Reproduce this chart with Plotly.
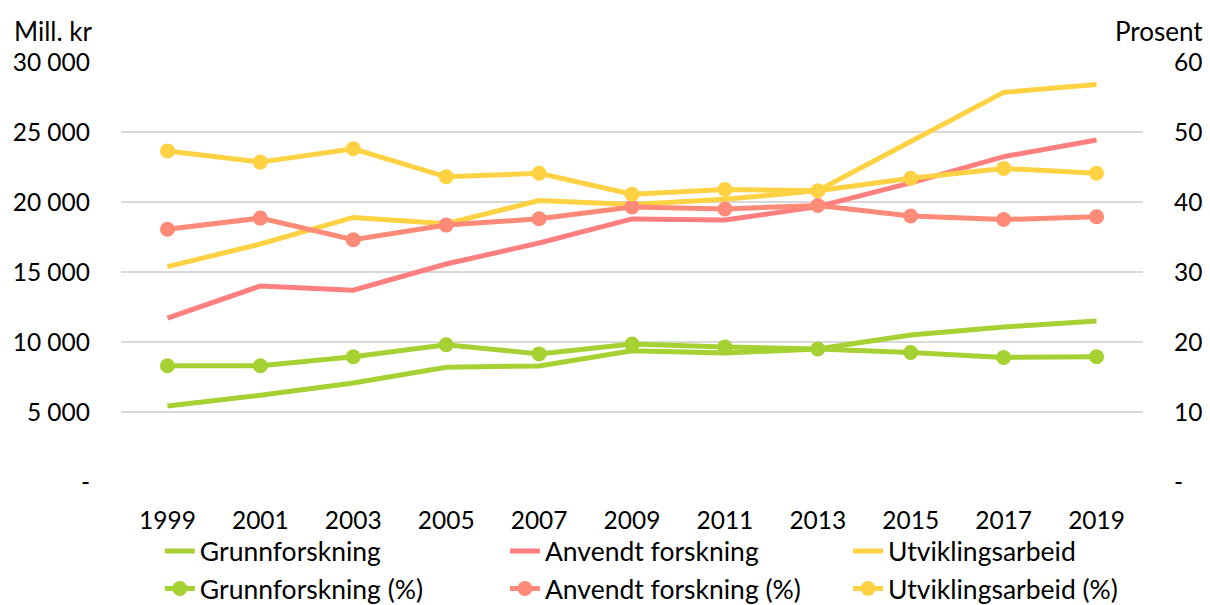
import plotly.graph_objects as go

years = ["1999", "2001", "2003", "2005", "2007", "2009", "2011", "2013", "2015", "2017", "2019"]

grunn = [5430, 6200, 7070, 8200, 8290, 9380, 9210, 9500, 10500, 11070, 11500]
anvendt = [11700, 14000, 13700, 15570, 17070, 18790, 18710, 19670, 21360, 23240, 24430]
utvikling = [15380, 17000, 18900, 18450, 20100, 19830, 20190, 20810, 24320, 27830, 28400]

grunn_pct = [16.6, 16.6, 17.9, 19.6, 18.3, 19.7, 19.3, 19.0, 18.5, 17.8, 17.9]
anvendt_pct = [36.1, 37.7, 34.6, 36.7, 37.6, 39.3, 39.0, 39.5, 38.0, 37.5, 37.9]
utvikling_pct = [47.3, 45.7, 47.6, 43.6, 44.1, 41.1, 41.8, 41.6, 43.4, 44.8, 44.1]

left_ticks = [0, 5000, 10000, 15000, 20000, 25000, 30000]
left_labels = ["-", "5 000", "10 000", "15 000", "20 000", "25 000", "30 000"]
right_ticks = [0, 10, 20, 30, 40, 50, 60]
right_labels = ["-", "10", "20", "30", "40", "50", "60"]

GREEN = "#a5d232"
RED = "#ff7f7f"
SALMON = "#ff8a78"
YELLOW = "#ffd243"

FONT = "Lato"
TICK_FS = 24.5
LEG_FS = 26.5
TITLE_FS = 26

fig = go.Figure()
line_w = 5
msize = 15

fig.add_trace(go.Scatter(x=years, y=grunn, name="Grunnforskning", mode="lines",
                         line=dict(color=GREEN, width=line_w), yaxis="y", legend="legend"))
fig.add_trace(go.Scatter(x=years, y=grunn_pct, name="Grunnforskning (%)", mode="lines+markers",
                         line=dict(color=GREEN, width=line_w),
                         marker=dict(color=GREEN, size=msize), yaxis="y2", legend="legend"))
fig.add_trace(go.Scatter(x=years, y=anvendt, name="Anvendt forskning", mode="lines",
                         line=dict(color=RED, width=line_w), yaxis="y", legend="legend2"))
fig.add_trace(go.Scatter(x=years, y=anvendt_pct, name="Anvendt forskning (%)", mode="lines+markers",
                         line=dict(color=SALMON, width=line_w),
                         marker=dict(color=SALMON, size=msize), yaxis="y2", legend="legend2"))
fig.add_trace(go.Scatter(x=years, y=utvikling, name="Utviklingsarbeid", mode="lines",
                         line=dict(color=YELLOW, width=line_w), yaxis="y", legend="legend3"))
fig.add_trace(go.Scatter(x=years, y=utvikling_pct, name="Utviklingsarbeid (%)", mode="lines+markers",
                         line=dict(color=YELLOW, width=line_w),
                         marker=dict(color=YELLOW, size=msize), yaxis="y2", legend="legend3"))

def leg(x):
    return dict(orientation="v", x=x, xanchor="left", y=-0.108, yanchor="top",
                font=dict(family=FONT, size=LEG_FS), bgcolor="rgba(0,0,0,0)",
                traceorder="normal")

fig.update_layout(
    width=1210, height=605,
    margin=dict(l=121, r=67, t=62, b=123, autoexpand=False),
    paper_bgcolor="white", plot_bgcolor="white",
    font=dict(family=FONT, size=TICK_FS, color="#000000"),
    showlegend=True,
    legend=leg(0.038),
    legend2=leg(0.3757),
    legend3=leg(0.7114),
    xaxis=dict(type="category", range=[-0.5, 10.5], showgrid=False, showline=False,
               ticks="", ticklabelstandoff=21, zeroline=False, automargin=False),
    yaxis=dict(range=[0, 30000], tickvals=left_ticks, ticktext=left_labels,
               showgrid=True, gridcolor="#d9d9d9", gridwidth=2, zeroline=False,
               showline=False, ticks="", ticklabelstandoff=30, automargin=False),
    yaxis2=dict(range=[0, 60], tickvals=right_ticks, ticktext=right_labels,
                overlaying="y", side="right", showgrid=False, zeroline=False,
                showline=False, ticks="", ticklabelstandoff=30, automargin=False),
    annotations=[
        dict(text="Mill. kr", xref="paper", yref="paper", x=-0.107, y=1.075,
             xanchor="left", yanchor="middle", showarrow=False, font=dict(size=TITLE_FS)),
        dict(text="Prosent", xref="paper", yref="paper", x=1.0607, y=1.075,
             xanchor="right", yanchor="middle", showarrow=False, font=dict(size=TITLE_FS)),
    ],
)

fig.write_html("out.html", config={"displayModeBar": False})

with open("out.html", "r", encoding="utf-8") as f:
    html = f.read()
html = html.replace("<head>", "<head><style>html,body{margin:0;padding:0;overflow:hidden;}</style>", 1)
with open("out.html", "w", encoding="utf-8") as f:
    f.write(html)
